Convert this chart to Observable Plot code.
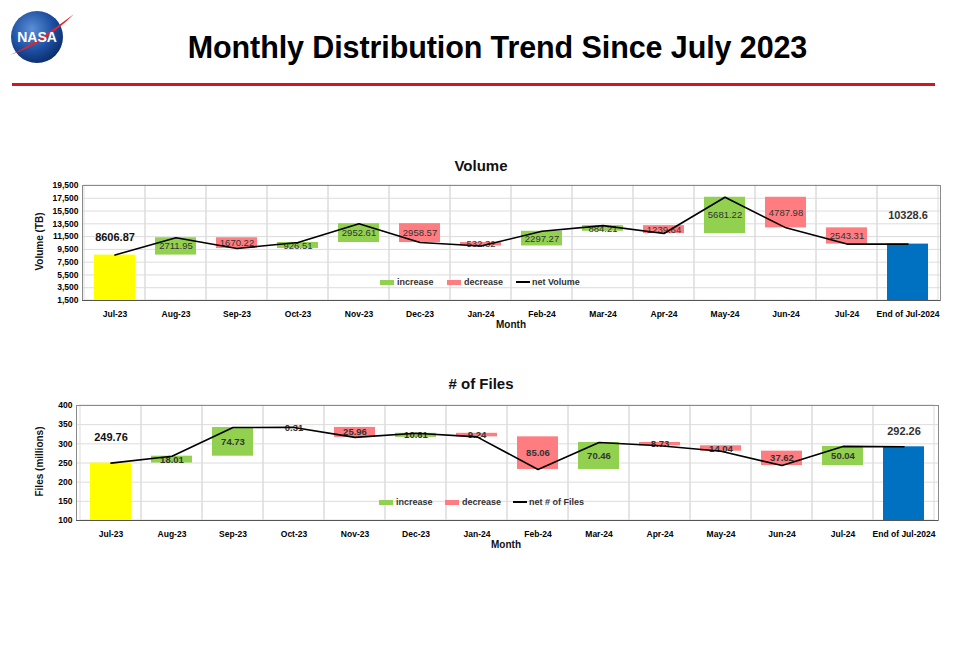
<!DOCTYPE html>
<html>
<head>
<meta charset="utf-8">
<script src="https://cdn.jsdelivr.net/npm/d3@7"></script>
<script src="https://cdn.jsdelivr.net/npm/@observablehq/plot@0.6"></script>
<style>
  html, body { margin: 0; padding: 0; background: #fff; }
  #page { position: relative; width: 955px; height: 651px; overflow: hidden; font-family: "Liberation Sans", Arial, sans-serif; }
  .abs { position: absolute; }
  #title { left: 0; width: 995px; top: 30px; text-align: center; font-size: 30.5px; font-weight: bold; color: #000; letter-spacing: -0.1px; }
  #redline { left: 12px; top: 83px; width: 923px; height: 3px; background: #d3161d; }
  .ctitle { font-size: 15px; font-weight: bold; color: #111; width: 200px; text-align: center; }
  .leg { font-size: 9px; font-weight: bold; color: #333; display: flex; align-items: center; white-space: nowrap; }
  .sw { display: inline-block; width: 14px; height: 5px; margin-right: 3px; }
  .ln { display: inline-block; width: 14px; height: 2px; background: #000; margin-right: 2px; }
  .ylab { font-size: 10px; font-weight: bold; color: #111; width: 160px; text-align: center; transform: rotate(-90deg); transform-origin: center center; }
  .xlab { font-size: 10px; font-weight: bold; color: #111; width: 100px; text-align: center; }
</style>
</head>
<body>
<div id="page">
  <svg class="abs" style="left:8px;top:8px" width="66" height="60" viewBox="0 0 66 60">
    <defs>
      <radialGradient id="g" cx="40%" cy="35%" r="70%">
        <stop offset="0%" stop-color="#5b8fd6"/>
        <stop offset="60%" stop-color="#1b4ea0"/>
        <stop offset="100%" stop-color="#0b2a66"/>
      </radialGradient>
    </defs>
    <circle cx="29" cy="29" r="26" fill="url(#g)"/>
    <path d="M2 47 C 22 38, 42 24, 66 6 C 46 26, 24 40, 2 47 Z" fill="#e3242b"/>
    <text x="29" y="34" text-anchor="middle" font-family="Liberation Sans" font-weight="bold" font-size="14" fill="#fff">NASA</text>
  </svg>
  <div id="title" class="abs">Monthly Distribution Trend Since July 2023</div>
  <div id="redline" class="abs"></div>

  <div class="abs ctitle" style="left:381px;top:157px">Volume</div>
  <div class="abs ctitle" style="left:381px;top:375px"># of Files</div>

  <div id="chart1" class="abs" style="left:0;top:150px"></div>
  <div id="chart2" class="abs" style="left:0;top:370px"></div>

  <div class="abs ylab" style="left:-41px;top:236px">Volume (TB)</div>
  <div class="abs ylab" style="left:-41px;top:456px">Files (millions)</div>
  <div class="abs xlab" style="left:461px;top:319px">Month</div>
  <div class="abs xlab" style="left:456px;top:539px">Month</div>

  <div class="abs leg" style="left:380px;top:277px"><span class="sw" style="background:#92d050"></span>increase</div>
  <div class="abs leg" style="left:447px;top:277px"><span class="sw" style="background:#ff7c80"></span>decrease</div>
  <div class="abs leg" style="left:516px;top:277px"><span class="ln"></span>net Volume</div>

  <div class="abs leg" style="left:379px;top:497px"><span class="sw" style="background:#92d050"></span>increase</div>
  <div class="abs leg" style="left:445px;top:497px"><span class="sw" style="background:#ff7c80"></span>decrease</div>
  <div class="abs leg" style="left:513px;top:497px"><span class="ln"></span>net # of Files</div>
</div>
<script>
// ---- data ----
const months = ["Jul-23","Aug-23","Sep-23","Oct-23","Nov-23","Dec-23","Jan-24","Feb-24","Mar-24","Apr-24","May-24","Jun-24","Jul-24","End of Jul-2024"];

const volumeStart = 8606.87;
const volumeChanges = [2711.95, -1670.22, 926.51, 2952.61, -2958.57, -532.32, 2297.27, 884.21, -1239.64, 5681.22, -4787.98, -2543.31];
const volumeEnd = 10328.6;
const volumeTicks = [1500, 3500, 5500, 7500, 9500, 11500, 13500, 15500, 17500, 19500];

const filesStart = 249.76;
const filesChanges = [18.01, 74.73, 0.31, -25.96, 10.61, -9.24, -85.06, 70.46, -8.73, -14.04, -37.62, 50.04];
const filesEnd = 292.26;
const filesTicks = [100, 150, 200, 250, 300, 350, 400];

const colors = {increase: "#92d050", decrease: "#ff7c80", start: "#ffff00", end: "#0070c0"};

function build(start, changes, end) {
  const steps = [];
  let cur = start;
  changes.forEach((c, i) => {
    const s = cur; cur = cur + c;
    steps.push({month: months[i + 1], y1: s, y2: cur, mid: (s + cur) / 2, change: c, type: c >= 0 ? "increase" : "decrease"});
  });
  const net = [{month: months[0], v: start}, ...steps.map(d => ({month: d.month, v: d.y2})), {month: months[months.length - 1], v: end}];
  return {steps, net};
}

function chart(el, opts) {
  const {start, changes, end, ticks, mLeft, mRight, labelWeight, startDy, endDy, endLabel, startLabel} = opts;
  const {steps, net} = build(start, changes, end);
  const lo = ticks[0], hi = ticks[ticks.length - 1];
  const cells = months.map(m => ({month: m}));
  const fmt = d3.format(",");
  const p = Plot.plot({
    width: 955, height: 185,
    marginLeft: mLeft, marginRight: mRight, marginTop: 35, marginBottom: 35,
    style: {fontFamily: "'Liberation Sans', Arial, sans-serif", background: "transparent"},
    x: {type: "band", domain: months, padding: 0},
    y: {domain: [lo, hi]},
    marks: [
      Plot.ruleY(ticks, {stroke: "#dcdcdc", strokeWidth: 1}),
      Plot.barY(cells, {x: "month", y1: lo, y2: hi, fill: "none", stroke: "#dcdcdc", strokeWidth: 1}),
      Plot.frame({stroke: "#8a8a8a", strokeWidth: 1}),
      Plot.ruleY([lo], {stroke: "#555", strokeWidth: 1.2}),
      Plot.axisY({ticks, tickFormat: d => fmt(d), tickSize: 0, tickPadding: 4, fontSize: 8.5, fontWeight: "bold", label: null}),
      Plot.axisX({tickSize: 0, tickPadding: 10, fontSize: 8.5, fontWeight: "bold", label: null}),
      Plot.barY([{month: months[0], v: start}], {x: "month", y1: lo, y2: "v", fill: colors.start, insetLeft: 10, insetRight: 10}),
      Plot.barY([{month: months[months.length - 1], v: end}], {x: "month", y1: lo, y2: "v", fill: colors.end, insetLeft: 10, insetRight: 10}),
      Plot.barY(steps, {x: "month", y1: "y1", y2: "y2", fill: d => colors[d.type], insetLeft: 10, insetRight: 10}),
      Plot.text(steps, {x: "month", y: "mid", text: d => Math.abs(d.change).toFixed(2), fill: "#333", fontSize: 9.5, fontWeight: labelWeight}),
      Plot.line(net, {x: "month", y: "v", stroke: "#000", strokeWidth: 1.6}),
      Plot.text([{month: months[0], v: start}], {x: "month", y: "v", text: () => startLabel, dy: startDy, fontSize: 11, fontWeight: "bold", fill: "#111"}),
      Plot.text([{month: months[months.length - 1], v: end}], {x: "month", y: "v", text: () => endLabel, dy: endDy, fontSize: 11, fontWeight: "bold", fill: "#333"})
    ]
  });
  document.getElementById(el).appendChild(p);
}

chart("chart1", {start: volumeStart, changes: volumeChanges, end: volumeEnd, ticks: volumeTicks, mLeft: 82, mRight: 15, labelWeight: "normal", startDy: -18, endDy: -29, startLabel: "8606.87", endLabel: "10328.6"});
chart("chart2", {start: filesStart, changes: filesChanges, end: filesEnd, ticks: filesTicks, mLeft: 76, mRight: 17, labelWeight: "bold", startDy: -26, endDy: -15, startLabel: "249.76", endLabel: "292.26"});
</script>
</body>
</html>
